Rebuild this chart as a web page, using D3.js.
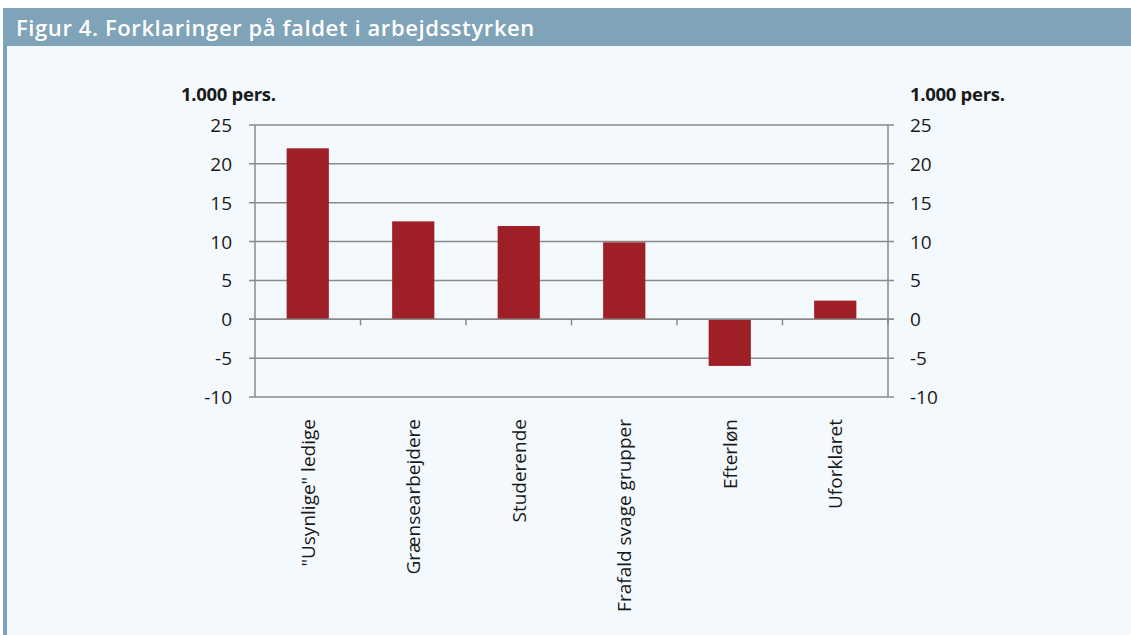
<!DOCTYPE html>
<html>
<head>
<meta charset="utf-8">
<script src="https://cdn.jsdelivr.net/npm/d3@7"></script>
<style>
  body { margin: 0; background: #fff; }
  svg { display: block; }
</style>
</head>
<body>
<div id="chart"></div>
<script>
// data
const categories = ['"Usynlige" ledige', 'Grænsearbejdere', 'Studerende', 'Frafald svage grupper', 'Efterløn', 'Uforklaret'];
const values = [22.0, 12.6, 12.0, 9.9, -6.0, 2.4];
const yTicks = [-10, -5, 0, 5, 10, 15, 20, 25];
const title = 'Figur 4. Forklaringer på faldet i arbejdsstyrken';
const unitLabel = '1.000 pers.';

const W = 1131, H = 635;
const colors = { band: '#7fa3b8', bg: '#f4f9fd', bar: '#9e1f25', axis: '#8a8a8a', text: '#1a1a1a' };
const font = '"Open Sans", sans-serif';

const svg = d3.select('#chart').append('svg')
  .attr('width', W).attr('height', H);

// panel
svg.append('rect').attr('x', 3).attr('y', 8).attr('width', W - 3).attr('height', H - 8).attr('fill', colors.bg);
svg.append('rect').attr('x', 3).attr('y', 8).attr('width', W - 3).attr('height', 38).attr('fill', colors.band);
svg.append('rect').attr('x', 3).attr('y', 8).attr('width', 4).attr('height', H - 8).attr('fill', colors.band);
svg.append('text')
  .attr('x', 16).attr('y', 36)
  .attr('fill', '#fff')
  .style('font-family', font).style('font-weight', 600).style('font-size', '22px')
  .style('letter-spacing', '0.6px')
  .text(title);

const plot = { left: 255, right: 888, top: 125, bottom: 397 };

const x = d3.scaleBand().domain(categories).range([plot.left, plot.right]).paddingInner(0.6).paddingOuter(0.3);
const xb = d3.scaleBand().domain(categories).range([plot.left, plot.right]);
const y = d3.scaleLinear().domain([-10, 25]).range([plot.bottom, plot.top]);

// gridlines
svg.append('g').selectAll('line').data(yTicks).enter().append('line')
  .attr('x1', plot.left - 6).attr('x2', plot.right + 6)
  .attr('y1', d => y(d)).attr('y2', d => y(d))
  .attr('stroke', colors.axis).attr('stroke-width', 1.5);

// bars
svg.append('g').selectAll('rect').data(values).enter().append('rect')
  .attr('x', (d, i) => x(categories[i]))
  .attr('width', x.bandwidth())
  .attr('y', d => y(Math.max(0, d)))
  .attr('height', d => Math.abs(y(d) - y(0)))
  .attr('fill', colors.bar);

// zero line redrawn on top + category ticks
svg.append('line')
  .attr('x1', plot.left - 6).attr('x2', plot.right + 6)
  .attr('y1', y(0)).attr('y2', y(0))
  .attr('stroke', colors.axis).attr('stroke-width', 1.5);
svg.append('g').selectAll('line').data(categories).enter().append('line')
  .attr('x1', d => xb(d) + xb.bandwidth()).attr('x2', d => xb(d) + xb.bandwidth())
  .attr('y1', y(0)).attr('y2', y(0) + 6)
  .attr('stroke', colors.axis).attr('stroke-width', 1.5);

// vertical axes
[plot.left, plot.right].forEach(px => {
  svg.append('line').attr('x1', px).attr('x2', px)
    .attr('y1', plot.top).attr('y2', plot.bottom)
    .attr('stroke', colors.axis).attr('stroke-width', 1.5);
});

// tick labels
const tl = svg.append('g').style('font-family', font).style('font-size', '19px').attr('fill', colors.text);
tl.selectAll('.yl').data(yTicks).enter().append('text')
  .attr('x', plot.left - 23).attr('y', d => y(d) + 7)
  .attr('text-anchor', 'end').text(d => d);
tl.selectAll('.yr').data(yTicks).enter().append('text')
  .attr('x', plot.right + 22).attr('y', d => y(d) + 7)
  .attr('text-anchor', 'start').text(d => d);

// unit labels
[181, 910].forEach(px => {
  svg.append('text').attr('x', px).attr('y', 101)
    .style('font-family', font).style('font-weight', 700).style('font-size', '18.5px').attr('fill', colors.text)
    .style('letter-spacing', '-0.3px')
    .text(unitLabel);
});

// category labels, rotated
svg.append('g').selectAll('text').data(categories).enter().append('text')
  .attr('transform', d => 'translate(' + (xb(d) + xb.bandwidth() / 2 + 7) + ',' + 419 + ') rotate(-90)')
  .attr('text-anchor', 'end')
  .style('font-family', font).style('font-size', '19px').attr('fill', colors.text)
  .text(d => d);
</script>
</body>
</html>
